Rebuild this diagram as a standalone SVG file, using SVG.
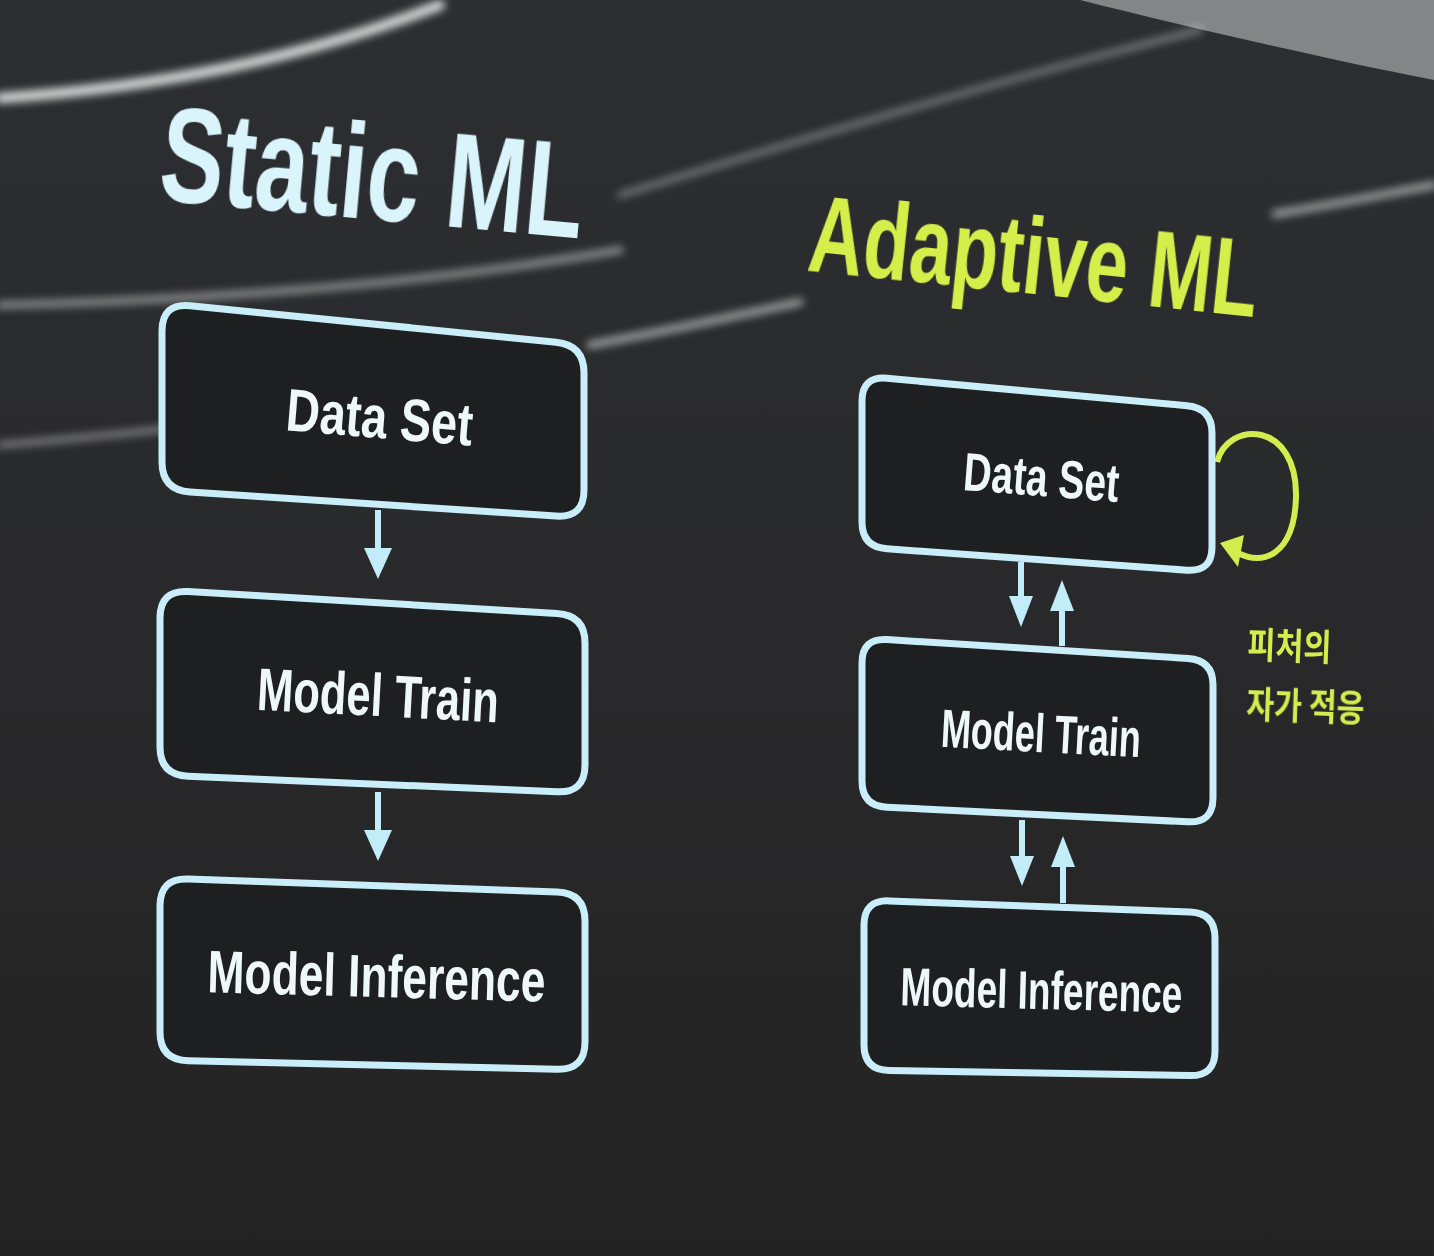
<svg xmlns="http://www.w3.org/2000/svg" width="1434" height="1256" viewBox="0 0 1434 1256">
<defs>
<linearGradient id="bg" x1="0" y1="0" x2="0" y2="1">
<stop offset="0" stop-color="#2c2e31"/>
<stop offset="0.5" stop-color="#29292b"/>
<stop offset="1" stop-color="#232323"/>
</linearGradient>
<filter id="blur" x="-10%" y="-50%" width="120%" height="200%"><feGaussianBlur stdDeviation="4"/></filter>
</defs>
<style>
.box{fill:#1e1f21;stroke:#c9eefa;stroke-width:7;stroke-linejoin:round}
.lbl{font-family:"Liberation Sans",Arial,sans-serif;font-weight:bold;fill:#eef7fa;text-anchor:middle}
.ttl{font-family:"Liberation Sans",Arial,sans-serif;font-weight:bold;text-anchor:start}
.arr{stroke:#c2ecf8;stroke-width:6;fill:none}
.head{fill:#c2ecf8}
.lime{fill:#d3ec4e}
.kr{font-family:"Noto Sans CJK KR","Noto Sans",sans-serif;font-weight:bold;font-size:37px}
.streak{fill:none;stroke:#ffffff;stroke-linecap:round}
</style>
<rect width="1434" height="1256" fill="url(#bg)"/>
<path d="M1080,0 L1434,0 L1434,80 C1330,60 1200,30 1080,0 Z" fill="#9a9b9c" opacity="0.8"/>
<g id="reflections" filter="url(#blur)">
<path class="streak" d="M0,98 C150,88 300,60 440,5" stroke-width="10" opacity="0.85"/>
<path class="streak" d="M0,305 C200,300 420,285 620,250" stroke-width="7" opacity="0.5"/>
<path class="streak" d="M590,345 C670,330 740,315 800,302" stroke-width="7" opacity="0.6"/>
<path class="streak" d="M1275,214 C1330,205 1380,195 1434,185" stroke-width="7" opacity="0.6"/>
<path class="streak" d="M0,445 C180,430 380,405 580,372" stroke-width="6" opacity="0.45"/>
<path class="streak" d="M620,195 C800,140 1000,80 1200,30" stroke-width="6" opacity="0.4"/>
</g>
<text id="title-static" class="ttl" x="0" y="0" font-size="136" fill="#d9f4fb" transform="translate(157,200) rotate(5.2) scale(0.703,1)">Static ML</text>
<text id="title-adaptive" class="ttl" x="0" y="0" font-size="110" fill="#d5ee4a" transform="translate(806,270) rotate(6) scale(0.69,1)">Adaptive ML</text>
<g id="connectors">
<line class="arr" x1="378" y1="510" x2="378" y2="552"/>
<polygon class="head" points="364,548 392,548 378,579"/>
<line class="arr" x1="378" y1="792" x2="378" y2="834"/>
<polygon class="head" points="364,830 392,830 378,861"/>
<line class="arr" x1="1021" y1="562" x2="1021" y2="600"/>
<polygon class="head" points="1009,596 1033,596 1021,627"/>
<line class="arr" x1="1062" y1="646" x2="1062" y2="606"/>
<polygon class="head" points="1050,611 1074,611 1062,580"/>
<line class="arr" x1="1022" y1="820" x2="1022" y2="860"/>
<polygon class="head" points="1010,856 1034,856 1022,886"/>
<line class="arr" x1="1063" y1="903" x2="1063" y2="862"/>
<polygon class="head" points="1051,867 1075,867 1063,836"/>
<path d="M1217,462 C1228,420 1298,420 1296,498 C1294,556 1262,566 1238,553" fill="none" stroke="#d3ec4e" stroke-width="6"/>
<polygon class="lime" points="1220,543 1244,535 1238,567"/>
</g>
<g id="static-dataset">
<path class="box" d="M162,331 Q162,303 190,305.8 L556,342.2 Q584,345 584,373 L584,490 Q584,518 556,516.1 L190,491.9 Q162,490 162,462 Z"/>
<text class="lbl" x="0" y="0" font-size="60" textLength="187" lengthAdjust="spacingAndGlyphs" transform="translate(378,438) rotate(4.7)">Data Set</text>
</g>
<g id="static-train">
<path class="box" d="M160,618 Q160,590 188,591.6 L557,613.4 Q585,615 585,643 L585,765 Q585,793 557,791.8 L188,776.2 Q160,775 160,747 Z"/>
<text class="lbl" x="0" y="0" font-size="60" textLength="242" lengthAdjust="spacingAndGlyphs" transform="translate(377,716) rotate(3)">Model Train</text>
</g>
<g id="static-inference">
<path class="box" d="M160,906 Q160,878 188,879 L557,892 Q585,893 585,921 L585,1042 Q585,1070 557,1069.3 L188,1060.7 Q160,1060 160,1032 Z"/>
<text class="lbl" x="0" y="0" font-size="60" textLength="338" lengthAdjust="spacingAndGlyphs" transform="translate(376,997) rotate(1.6)">Model Inference</text>
</g>
<g id="adaptive-dataset">
<path class="box" d="M862,401 Q862,376 887,378.3 L1187,405.7 Q1212,408 1212,433 L1212,547 Q1212,572 1187,570.2 L887,548.8 Q862,547 862,522 Z"/>
<text class="lbl" x="0" y="0" font-size="54" textLength="156" lengthAdjust="spacingAndGlyphs" transform="translate(1040,496) rotate(4.5)">Data Set</text>
</g>
<g id="adaptive-train">
<path class="box" d="M862,663 Q862,638 887,639.6 L1188,658.4 Q1213,660 1213,685 L1213,798 Q1213,823 1188,821.8 L887,807.2 Q862,806 862,781 Z"/>
<text class="lbl" x="0" y="0" font-size="54" textLength="200" lengthAdjust="spacingAndGlyphs" transform="translate(1040,752) rotate(3)">Model Train</text>
</g>
<g id="adaptive-inference">
<path class="box" d="M864,925 Q864,900 889,900.9 L1190,912.1 Q1215,913 1215,938 L1215,1051 Q1215,1076 1190,1075.6 L889,1070.4 Q864,1070 864,1045 Z"/>
<text class="lbl" x="0" y="0" font-size="54" textLength="282" lengthAdjust="spacingAndGlyphs" transform="translate(1041,1009) rotate(1.5)">Model Inference</text>
</g>
<g id="note">
<text class="kr lime" x="1247" y="658" textLength="84" lengthAdjust="spacingAndGlyphs" transform="rotate(2,1247,658)">피처의</text>
<text class="kr lime" x="1246" y="718" textLength="118" lengthAdjust="spacingAndGlyphs" transform="rotate(2,1246,718)">자가 적응</text>
</g>
</svg>
